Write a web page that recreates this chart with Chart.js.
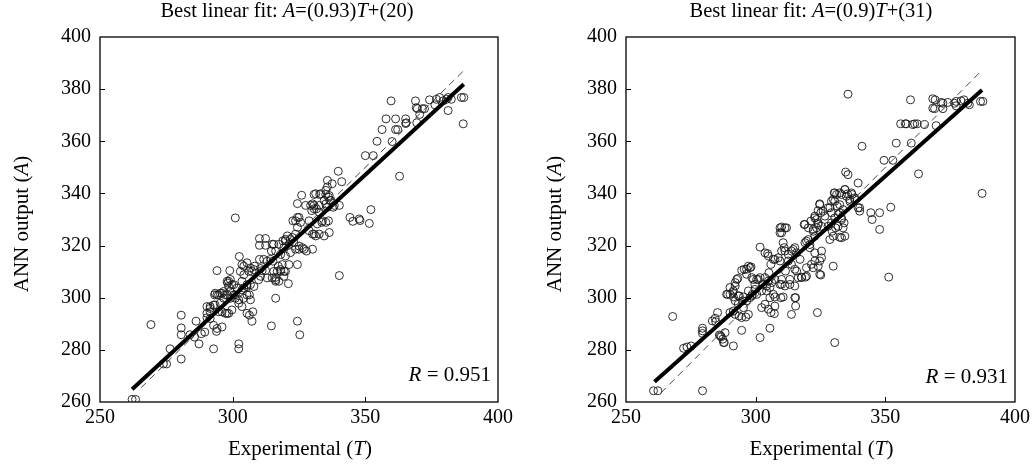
<!DOCTYPE html>
<html>
<head>
<meta charset="utf-8">
<script src="https://cdn.jsdelivr.net/npm/chart.js@4.4.1/dist/chart.umd.min.js"></script>
<style>
  html, body { margin: 0; padding: 0; background: #fff; }
  #wrap { position: relative; width: 1034px; height: 464px; }
  canvas { position: absolute; top: 0; }
</style>
</head>
<body>
<div id="wrap">
  <canvas id="left" width="517" height="464" style="left:0"></canvas>
  <canvas id="right" width="517" height="464" style="left:517px"></canvas>
</div>
<script>
'use strict';

// axis ranges / ticks
const xTicks = [250, 300, 350, 400];
const yTicks = [260, 280, 300, 320, 340, 360, 380, 400];

// left panel: experimental T vs ANN output A
const leftPoints = [
  [262.1,261.0],[263.4,261.0],[269.2,289.7],[276.4,280.4],[273.9,274.6],[275.1,274.6],[280.6,276.5],[280.6,293.3],
  [280.6,288.4],[280.6,285.8],[286.2,291.0],[283.9,285.8],[285.6,284.9],[287.3,282.3],[288.2,286.2],[289.5,286.8],
  [292.8,280.4],[292.8,289.4],[294.1,288.2],[296.0,288.8],[293.9,287.1],[290.3,292.3],[291.5,294.6],[290.3,296.6],
  [291.5,296.6],[292.8,297.2],[293.2,301.1],[295.3,301.7],[296.6,302.4],[294.1,310.4],[298.9,310.4],[298.5,306.3],
  [299.1,307.0],[299.7,305.0],[297.9,301.1],[299.1,299.8],[300.4,301.1],[294.7,294.6],[296.0,294.6],[297.2,294.0],
  [298.5,294.0],[299.7,295.3],[302.3,282.3],[302.3,280.4],[301.0,330.6],[302.5,315.8],[303.5,312.7],[305.4,313.4],
  [306.1,310.1],[307.3,310.1],[308.3,312.1],[303.5,306.3],[304.2,303.7],[305.4,305.0],[306.3,301.1],[301.0,299.8],
  [302.3,297.9],[303.5,296.6],[305.4,294.0],[306.3,293.3],[307.6,294.6],[307.3,291.0],[309.8,306.9],[310.5,308.2],
  [311.1,310.4],[312.4,310.4],[310.1,314.7],[311.7,314.7],[313.0,314.0],[314.3,314.7],[315.2,314.0],[310.1,322.7],
  [310.1,320.1],[312.4,322.7],[312.4,320.1],[314.6,317.9],[315.5,320.5],[316.2,306.9],[316.2,307.8],[316.2,299.8],
  [314.6,289.2],[319.4,310.1],[321.0,305.4],[317.2,312.1],[318.1,310.8],[318.7,312.7],[318.9,321.8],[319.9,322.4],
  [320.6,323.7],[321.2,320.5],[322.5,323.1],[323.7,324.4],[322.7,329.5],[324.4,330.8],[324.4,336.1],[326.0,339.3],
  [324.4,312.7],[324.4,291.0],[325.3,285.8],[323.7,318.6],[325.0,318.6],[326.3,319.2],[327.8,317.9],[330.1,318.6],
  [328.8,325.7],[330.1,324.4],[331.3,323.7],[332.6,324.4],[334.5,323.7],[328.8,329.5],[329.8,333.4],[330.7,335.4],
  [331.6,334.1],[332.6,332.8],[333.6,328.9],[335.1,328.9],[336.1,329.5],[330.7,339.6],[332.8,339.6],[335.1,339.6],
  [336.1,338.6],[336.6,337.3],[337.9,334.7],[335.1,336.0],[335.7,345.0],[337.5,343.7],[339.8,348.5],[341.1,344.5],
  [340.2,308.5],[344.2,330.8],[345.3,329.3],[347.7,330.2],[348.0,329.6],[352.1,333.8],[351.5,328.5],[350.0,354.5],
  [353.0,354.5],[354.4,360.0],[356.3,364.5],[357.8,368.6],[360.1,359.9],[361.4,368.6],[361.4,364.5],[362.2,364.5],
  [365.2,368.6],[365.2,366.8],[359.7,375.5],[362.9,346.6],[368.9,375.5],[369.2,372.9],[371.5,372.5],[372.3,372.5],
  [374.2,375.9],[376.8,376.1],[378.0,376.8],[381.2,376.8],[382.4,376.1],[381.2,371.8],[386.2,376.8],[387.1,376.8],
  [386.9,366.7],[369.4,367.1],[379.3,375.5],[380.6,376.1],[376.2,374.0],
  [329.4,335.4],[323.7,329.5],[325.0,330.8],[325.6,328.9],[324.4,327.0],[331.9,328.3],[333.8,329.5],[330.7,324.4],
  [336.4,325.0],[321.8,322.4],[323.1,321.1],[325.0,319.8],[326.9,318.6],[314.9,320.5],[317.4,320.5],[319.3,319.2],
  [319.9,321.8],[316.2,317.9],[318.1,316.6],[319.9,316.0],[321.8,317.3],[321.2,312.7],[304.2,312.1],[306.7,311.4],
  [308.0,310.8],[310.5,311.2],[302.9,310.1],[304.2,308.8],[315.5,310.1],[316.8,310.1],[318.1,310.1],[319.9,310.1],
  [319.3,308.2],[313.0,307.6],[314.9,307.6],[316.2,306.3],[317.4,306.3],[297.9,306.3],[298.5,304.3],[300.4,305.0],
  [301.6,303.7],[303.5,303.0],[305.4,304.3],[306.7,305.0],[308.0,304.3],[293.4,301.7],[294.7,301.1],[296.0,301.7],
  [297.2,301.1],[299.1,302.4],[301.0,301.1],[302.3,299.2],[304.2,299.8],[305.4,301.1],[306.7,299.2],
  [369.6,372.5],[370.5,370.3],[365.4,367.1],[331.3,339.9],[333.2,339.9],[336.4,339.2],[335.1,341.2],[335.7,342.5],
  [327.5,335.4],[330.1,336.0],[330.7,334.1],[332.6,335.4],[334.5,337.3],[337.0,337.3],[335.7,334.7],[338.3,335.4],
  [340.2,335.4],[290.3,294.0],[291.5,295.9],[293.4,297.2],[295.3,297.9],[296.6,299.8],[294.1,301.1],[298.1,305.6],
  [291.5,292.0],[297.9,294.0]
];
const leftFitT = [262.1, 387.1];
const leftFitA = [264.9, 381.9];
const leftDiag = [265.5, 387.0];

// right panel
const rightPoints = [
  [260.6,264.3],[262.3,264.3],[279.5,264.3],[268.0,292.8],[272.2,280.6],[273.5,281.1],[275.1,281.5],[279.5,288.3],
  [279.5,287.3],[279.5,286.3],[283.3,291.1],[284.4,292.1],[285.3,294.3],[284.6,290.8],[286.0,285.7],[286.7,285.0],
  [288.2,286.6],[287.6,282.8],[291.4,281.5],[294.6,287.5],[288.8,301.3],[290.1,303.9],[291.4,302.6],[292.1,305.8],
  [293.1,307.4],[290.1,294.3],[291.4,294.9],[292.1,293.6],[293.6,293.0],[294.6,292.4],[296.2,292.6],[297.2,293.6],
  [292.1,298.8],[293.3,297.5],[295.3,296.2],[296.5,298.8],[297.8,300.0],[298.7,301.3],[299.7,303.2],[295.6,310.9],
  [297.2,312.1],[298.2,311.8],[296.5,310.9],[298.5,307.7],[300.4,307.0],[301.7,307.7],[299.7,305.1],[301.7,319.4],
  [304.6,316.9],[305.9,312.8],[307.4,314.7],[309.4,314.1],[310.0,317.9],[311.0,319.2],[309.4,324.9],[311.9,326.8],
  [309.4,326.8],[301.7,284.7],[305.5,288.3],[302.3,296.2],[303.6,297.5],[304.9,295.6],[305.9,294.3],[307.2,293.9],
  [307.4,296.8],[309.7,300.0],[302.9,305.1],[304.2,302.6],[305.5,303.9],[306.8,301.3],[303.6,307.7],[305.1,309.6],
  [310.0,305.1],[310.0,307.0],[311.5,310.2],[312.6,314.1],[313.8,317.9],[315.1,319.2],[313.8,312.8],[315.1,310.9],
  [316.4,307.7],[317.7,307.9],[319.2,307.9],[315.4,300.0],[315.4,296.8],[313.8,293.6],[318.7,328.1],[320.3,326.8],
  [319.6,321.7],[320.9,320.4],[322.2,325.5],[322.8,323.6],[323.5,330.0],[324.1,328.1],[324.7,335.7],[325.1,332.6],
  [325.4,317.9],[324.7,314.1],[324.1,312.1],[325.1,308.7],[322.8,314.1],[321.5,312.8],[323.8,294.3],[329.9,312.1],
  [330.5,282.8],[327.9,334.5],[329.2,332.6],[330.3,340.2],[330.5,337.0],[331.5,335.1],[332.4,332.6],[333.1,330.6],
  [329.5,325.5],[330.8,326.8],[332.4,323.2],[334.4,323.6],[334.1,328.7],[334.4,341.5],[335.4,339.8],[336.3,337.0],
  [337.2,339.6],[338.2,337.7],[340.1,334.5],[339.5,344.0],[334.7,348.2],[335.6,347.2],[335.6,378.1],[341.0,358.1],
  [344.4,332.6],[344.9,330.0],[347.8,332.6],[347.8,326.2],[352.1,334.7],[351.3,307.9],[349.5,352.7],[352.9,352.7],
  [354.2,359.3],[360.0,359.3],[362.8,347.5],[355.9,366.7],[357.7,366.7],[361.3,366.7],[362.3,366.7],[365.1,366.4],
  [369.6,366.0],[359.7,375.9],[369.2,375.9],[369.0,372.5],[372.2,374.6],[372.2,372.5],[374.1,374.9],[376.7,374.6],
  [377.3,375.3],[380.3,375.9],[381.8,374.6],[382.4,374.0],[386.7,375.3],[387.6,375.3],[387.3,340.0],
  [310.0,327.1],[310.0,324.9],[311.3,326.8],[319.0,328.1],[321.3,329.4],[322.8,330.6],[324.1,328.7],[325.4,327.4],
  [323.5,326.8],[322.2,326.2],[326.0,333.2],[326.7,331.3],[328.6,334.5],[329.9,337.7],[331.2,339.6],[333.1,339.6],
  [332.4,335.7],[333.7,333.8],[331.8,331.9],[330.5,330.6],[333.1,330.0],[329.2,328.7],[327.9,327.4],[331.8,327.4],
  [333.7,326.8],[329.9,323.6],[333.1,323.0],[328.6,322.3],[303.6,317.2],[304.9,316.0],[306.8,314.7],[308.7,315.3],
  [310.6,321.1],[311.3,317.9],[312.6,316.6],[314.5,318.5],[315.8,317.2],[317.1,314.7],[319.0,321.1],[320.3,322.3],
  [320.9,319.2],[322.8,317.2],[325.4,315.3],[294.6,310.5],[297.8,311.5],[296.5,309.0],[299.1,307.0],[301.0,307.0],
  [304.9,306.4],[306.2,305.8],[307.4,307.0],[309.4,305.1],[311.3,304.5],[313.2,305.1],[315.1,304.5],[313.2,307.0],
  [315.8,310.2],[317.7,307.7],[319.6,308.3],[319.6,311.5],[322.2,311.5],[324.7,309.0],[292.7,307.0],[292.1,304.5],
  [290.1,301.3],[291.4,300.3],[293.3,300.7],[295.3,300.3],[297.2,302.6],[298.5,300.7],[300.4,301.3],[302.3,302.6],
  [304.2,304.5],[305.5,300.0],[307.4,300.3],[310.6,300.3],[315.1,300.0],
  [289.2,301.3],[291.2,302.0],[293.7,300.7],[295.0,298.8],[286.4,285.4],[287.3,284.1],[287.9,282.8],
  [368.3,376.3],[368.3,372.7],[358.1,366.7],[330.5,340.2],[332.4,340.2],[334.4,341.5],[335.0,338.9],[336.9,340.2],
  [338.2,338.3],[336.3,337.7],[324.7,336.0],[324.1,333.4],[322.8,331.3],[329.2,337.0],[339.5,334.5],[340.1,333.2],
  [371.5,374.9],[379.2,375.5],[377.3,373.6],[360.6,366.4]
];
const rightFitT = [261.0, 387.3];
const rightFitA = [267.8, 379.7];
const rightDiag = [263.5, 387.5];

const SERIF = "'Liberation Serif', 'Times New Roman', serif";

// draws a line of text with some italic pieces, centred on cx
const drawRich = (ctx, parts, cx, cy, size, align) => {
  const fontOf = (p) => `${p.i ? 'italic ' : ''}${size}px ${SERIF}`;
  let total = 0;
  parts.forEach(p => { ctx.font = fontOf(p); total += ctx.measureText(p.t).width; });
  let x = align === 'right' ? cx - total : cx - total / 2;
  ctx.textBaseline = 'middle';
  ctx.textAlign = 'left';
  parts.forEach(p => {
    ctx.font = fontOf(p);
    ctx.fillText(p.t, x, cy);
    x += ctx.measureText(p.t).width;
  });
};

const framePlugin = {
  id: 'frame',
  afterDraw(chart, args, opts) {
    const { ctx, chartArea: a, scales } = chart;
    ctx.save();
    ctx.strokeStyle = '#000';
    ctx.fillStyle = '#000';
    ctx.lineWidth = 1.3;
    ctx.strokeRect(a.left, a.top, a.right - a.left, a.bottom - a.top);
    // inward tick marks
    ctx.lineWidth = 1;
    ctx.beginPath();
    scales.y.ticks.forEach(t => {
      if (t.value <= scales.y.min || t.value >= scales.y.max) return;
      const y = Math.round(scales.y.getPixelForValue(t.value)) + 0.5;
      ctx.moveTo(a.left, y); ctx.lineTo(a.left + 5, y);
    });
    scales.x.ticks.forEach(t => {
      if (t.value <= scales.x.min || t.value >= scales.x.max) return;
      const x = Math.round(scales.x.getPixelForValue(t.value)) + 0.5;
      ctx.moveTo(x, a.bottom); ctx.lineTo(x, a.bottom - 5);
    });
    ctx.stroke();

    // texts
    drawRich(ctx, opts.title, opts.titleX, 12, 20.5);
    const midX = (a.left + a.right) / 2;
    drawRich(ctx, [{ t: 'Experimental (' }, { t: 'T', i: true }, { t: ')' }], midX + 1, 449, 21);
    ctx.save();
    ctx.translate(opts.yTitleX, 224);
    ctx.rotate(-Math.PI / 2);
    drawRich(ctx, [{ t: 'ANN output (' }, { t: 'A', i: true }, { t: ')' }], 0, 0, 21);
    ctx.restore();
    drawRich(ctx, [{ t: 'R', i: true }, { t: ' = ' + opts.r }], a.right - 7, opts.rY, 21, 'right');
    ctx.restore();
  },
};

const makeChart = (id, points, fitT, fitA, diag, cfg) => {
  const ctx = document.getElementById(id).getContext('2d');
  return new Chart(ctx, {
    type: 'scatter',
    data: {
      datasets: [
        {
          data: fitT.map((t, i) => ({ x: t, y: fitA[i] })),
          showLine: true,
          borderColor: '#000',
          borderWidth: 4,
          pointRadius: 0,
          order: 0,
        },
        {
          data: diag.map(v => ({ x: v, y: v })),
          showLine: true,
          borderColor: '#333',
          borderWidth: 0.9,
          borderDash: [7, 5],
          pointRadius: 0,
          order: 1,
        },
        {
          data: points.map(p => ({ x: p[0], y: p[1] })),
          pointRadius: 4,
          pointBorderWidth: 0.9,
          pointBorderColor: '#1a1a1a',
          pointBackgroundColor: 'rgba(0,0,0,0)',
          order: 2,
        },
      ],
    },
    options: {
      responsive: false,
      animation: false,
      layout: { padding: { top: 37, right: cfg.padRight, left: 0, bottom: 0 } },
      plugins: {
        legend: { display: false },
        tooltip: { enabled: false },
        frame: cfg,
      },
      scales: {
        x: {
          type: 'linear',
          min: xTicks[0],
          max: xTicks[xTicks.length - 1],
          afterBuildTicks: (s) => { s.ticks = xTicks.map(v => ({ value: v })); },
          ticks: { color: '#000', font: { family: SERIF, size: 20 }, padding: 4, maxRotation: 0 },
          grid: { display: false, drawTicks: false },
          border: { display: false },
          afterFit: (s) => { s.height = 62; },
        },
        y: {
          type: 'linear',
          min: yTicks[0],
          max: yTicks[yTicks.length - 1],
          afterBuildTicks: (s) => { s.ticks = yTicks.map(v => ({ value: v })); },
          ticks: { color: '#000', font: { family: SERIF, size: 20 }, padding: 9 },
          grid: { display: false, drawTicks: false },
          border: { display: false },
          afterFit: (s) => { s.width = cfg.yWidth; },
        },
      },
    },
    plugins: [framePlugin],
  });
};

makeChart('left', leftPoints, leftFitT, leftFitA, leftDiag, {
  title: [{ t: 'Best linear fit: ' }, { t: 'A', i: true }, { t: '=(0.93)' }, { t: 'T', i: true }, { t: '+(20)' }],
  titleX: 287, yTitleX: 22, r: '0.951', rY: 375, yWidth: 100, padRight: 19,
});
makeChart('right', rightPoints, rightFitT, rightFitA, rightDiag, {
  title: [{ t: 'Best linear fit: ' }, { t: 'A', i: true }, { t: '=(0.9)' }, { t: 'T', i: true }, { t: '+(31)' }],
  titleX: 294, yTitleX: 38, r: '0.931', rY: 377, yWidth: 109, padRight: 9,
});
</script>
</body>
</html>
